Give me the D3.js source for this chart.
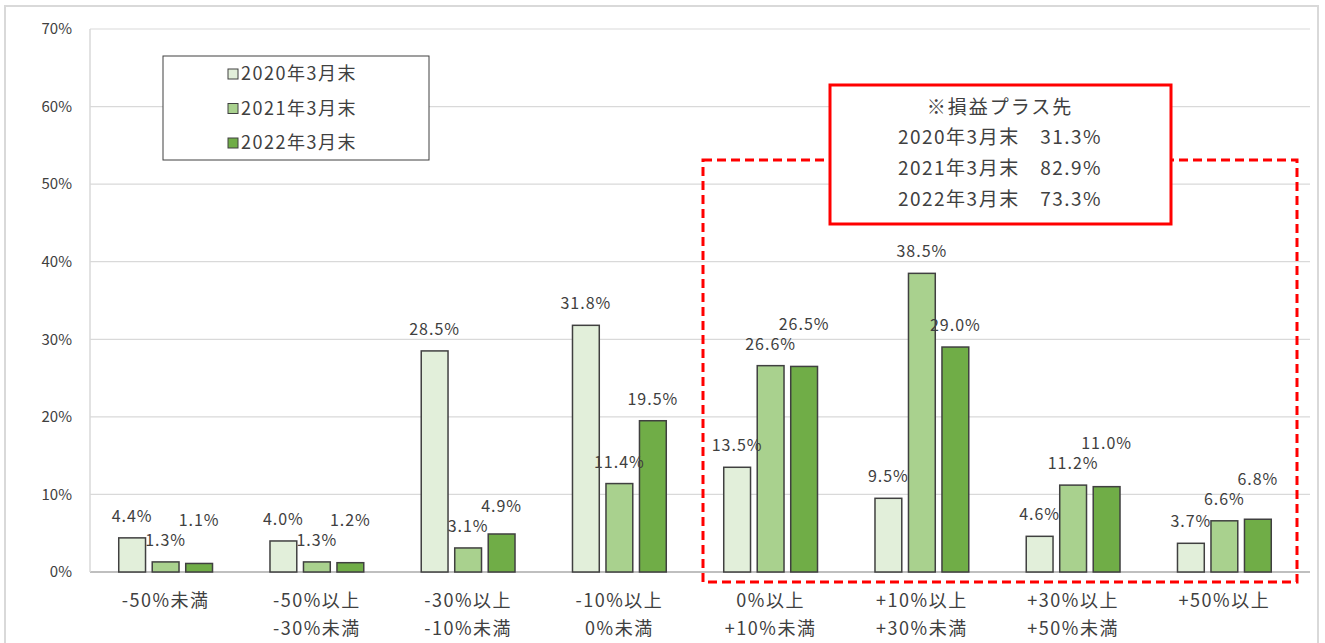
<!DOCTYPE html>
<html>
<head>
<meta charset="utf-8">
<script src="https://cdn.jsdelivr.net/npm/d3@7"></script>
<style>
  body { margin: 0; background: #fff; }
  text { font-family: "Noto Sans CJK JP", sans-serif; fill: #404040; }
</style>
</head>
<body>
<svg id="chart"></svg>
<script>
let width = 1325;
let height = 643;
let margin = { top: 29, right: 25, bottom: 71, left: 90 };

// data
const categories = ['-50%未満', '-50%以上\n-30%未満', '-30%以上\n-10%未満', '-10%以上\n0%未満',
  '0%以上\n+10%未満', '+10%以上\n+30%未満', '+30%以上\n+50%未満', '+50%以上'];
const seriesNames = ['2020年3月末', '2021年3月末', '2022年3月末'];
const values2020 = [4.4, 4.0, 28.5, 31.8, 13.5, 9.5, 4.6, 3.7];
const values2021 = [1.3, 1.3, 3.1, 11.4, 26.6, 38.5, 11.2, 6.6];
const values2022 = [1.1, 1.2, 4.9, 19.5, 26.5, 29.0, 11.0, 6.8];
const yTicks = [0, 10, 20, 30, 40, 50, 60, 70];
const noteTitle = '※損益プラス先';
const noteRows = ['2020年3月末　31.3%', '2021年3月末　82.9%', '2022年3月末　73.3%'];

const COLORS = ['#E2EFDA', '#A9D18E', '#70AD47'];
const allSeries = [values2020, values2021, values2022];

let svg = d3.select('#chart')
  .attr('width', width)
  .attr('height', height);

// outer frame
svg.append('rect')
  .attr('x', 5).attr('y', 6)
  .attr('width', 1313).attr('height', 645)
  .attr('fill', 'none')
  .attr('stroke', '#d9d9d9')
  .attr('stroke-width', 2);

let x0 = d3.scaleBand()
  .domain(categories)
  .range([margin.left, 1300])
  .paddingInner(0.38)
  .paddingOuter(0.19);

let x1 = d3.scaleBand()
  .domain(seriesNames)
  .range([0, x0.bandwidth()])
  .paddingInner(0.2);

let y = d3.scaleLinear()
  .domain([0, 70])
  .range([height - margin.bottom, margin.top]);

// grid
svg.append('g')
  .selectAll('line')
  .data(yTicks)
  .join('line')
    .attr('x1', margin.left)
    .attr('x2', width - margin.right + 10)
    .attr('y1', d => y(d))
    .attr('y2', d => y(d))
    .attr('stroke', d => d === 0 ? '#bfbfbf' : '#d9d9d9')
    .attr('stroke-width', d => d === 0 ? 2 : 1.2);

svg.append('line')
  .attr('x1', margin.left).attr('x2', margin.left)
  .attr('y1', y(70)).attr('y2', y(0))
  .attr('stroke', '#d9d9d9')
  .attr('stroke-width', 1.5);

// y axis labels
let yAxis = d3.axisLeft(y).tickValues(yTicks).tickFormat(d => d + '%').tickSize(0).tickPadding(18);
svg.append('g')
  .attr('transform', `translate(${margin.left},0)`)
  .call(yAxis)
  .call(g => g.select('.domain').remove())
  .call(g => g.selectAll('text')
    .style('font-family', '"Noto Sans CJK JP", sans-serif')
    .style('font-size', '15px')
    .attr('fill', '#595959'));

// bars
let groups = svg.append('g')
  .selectAll('g')
  .data(categories)
  .join('g')
    .attr('transform', d => `translate(${x0(d)},0)`);

groups.selectAll('rect')
  .data((d, i) => allSeries.map((s, j) => ({ name: seriesNames[j], value: s[i], j: j })))
  .join('rect')
    .attr('x', d => x1(d.name))
    .attr('y', d => y(d.value))
    .attr('width', x1.bandwidth())
    .attr('height', d => y(0) - y(d.value))
    .attr('fill', d => COLORS[d.j])
    .attr('stroke', '#404040')
    .attr('stroke-width', 1.5);

// data labels, lifted when they would collide with the neighbour on the left
let labelData = categories.map((c, i) => {
  let items = allSeries.map((s, j) => ({ name: seriesNames[j], value: s[i], j: j, ly: y(s[i]) - 16 }));
  for (let j = 1; j < items.length; j++) {
    let prev = items[j - 1];
    if (Math.abs(items[j].ly - prev.ly) < 18) items[j].ly = prev.ly - 20;
  }
  return items;
});

groups.selectAll('text.label')
  .data((d, i) => labelData[i])
  .join('text')
    .attr('class', 'label')
    .attr('x', d => x1(d.name) + x1.bandwidth() / 2)
    .attr('y', d => d.ly)
    .attr('text-anchor', 'middle')
    .style('font-size', '16px')
    .style('letter-spacing', '1px')
    .text(d => d.value.toFixed(1) + '%');

// category labels
let catLabels = svg.append('g')
  .selectAll('text')
  .data(categories)
  .join('text')
    .attr('x', d => x0(d) + x0.bandwidth() / 2)
    .attr('y', height - margin.bottom + 35)
    .attr('text-anchor', 'middle')
    .style('font-size', '18px')
    .style('letter-spacing', '1.5px')
    .attr('fill', '#404040');

catLabels.selectAll('tspan')
  .data(d => d.split('\n'))
  .join('tspan')
    .attr('x', function() { return d3.select(this.parentNode).attr('x'); })
    .attr('dy', (d, i) => i === 0 ? 0 : 28)
    .text(d => d);

// legend
let legend = svg.append('g');
legend.append('rect')
  .attr('x', 163).attr('y', 56)
  .attr('width', 266).attr('height', 104)
  .attr('fill', '#fff')
  .attr('stroke', '#404040')
  .attr('stroke-width', 1);

seriesNames.forEach((name, i) => {
  let ly = 74 + i * 34.5;
  legend.append('rect')
    .attr('x', 228).attr('y', ly - 5)
    .attr('width', 10).attr('height', 10)
    .attr('fill', COLORS[i])
    .attr('stroke', '#404040')
    .attr('stroke-width', 1);
  legend.append('text')
    .attr('x', 241).attr('y', ly)
    .attr('dy', '0.35em')
    .style('font-size', '18px')
    .style('letter-spacing', '1.5px')
    .text(name);
});

// dashed highlight around positive categories
svg.append('rect')
  .attr('x', 703).attr('y', 160)
  .attr('width', 594).attr('height', 422)
  .attr('fill', 'none')
  .attr('stroke', '#ff0000')
  .attr('stroke-width', 3)
  .attr('stroke-dasharray', '9,5');

// note box
svg.append('rect')
  .attr('x', 830).attr('y', 85)
  .attr('width', 341).attr('height', 139)
  .attr('fill', '#fff')
  .attr('stroke', '#ff0000')
  .attr('stroke-width', 3);

svg.append('text')
  .attr('x', 1000).attr('y', 107)
  .attr('dy', '0.35em')
  .attr('text-anchor', 'middle')
  .style('font-size', '19px')
  .style('letter-spacing', '2px')
  .text(noteTitle);

svg.append('g')
  .selectAll('text')
  .data(noteRows)
  .join('text')
    .attr('x', 1000)
    .attr('y', (d, i) => 137 + i * 31)
    .attr('dy', '0.35em')
    .attr('text-anchor', 'middle')
    .style('font-size', '19px')
    .style('letter-spacing', '1.5px')
    .text(d => d);
</script>
</body>
</html>
